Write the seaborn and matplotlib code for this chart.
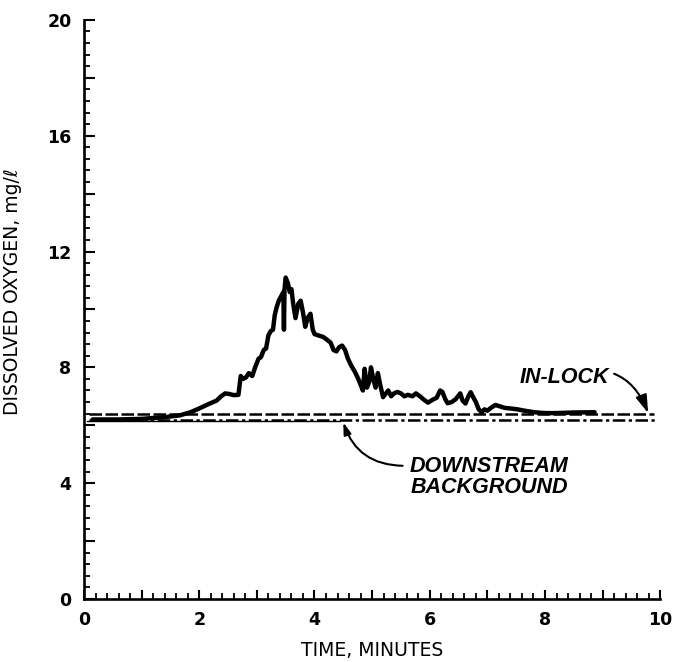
import numpy as np
import pandas as pd
import matplotlib
matplotlib.use("Agg")
import matplotlib.pyplot as plt
import seaborn as sns
from matplotlib.ticker import MultipleLocator, FuncFormatter

# ---- data ----
inlock_time = [0.15, 0.6, 1.0, 1.4, 1.66, 1.85, 2.0, 2.15, 2.3, 2.38, 2.45, 2.52, 2.6, 2.68,
               2.72, 2.76, 2.81, 2.86, 2.92, 2.97, 3.03, 3.07, 3.12, 3.16, 3.2, 3.24, 3.28,
               3.31, 3.34, 3.38, 3.42, 3.46, 3.47, 3.48, 3.5, 3.54, 3.57, 3.6, 3.63, 3.67,
               3.72, 3.76, 3.8, 3.84, 3.88, 3.93, 3.97, 4.0, 4.07, 4.15, 4.22, 4.28, 4.33,
               4.38, 4.43, 4.48, 4.53, 4.58, 4.64, 4.7, 4.76, 4.8, 4.84, 4.87, 4.91, 4.95,
               4.98, 5.02, 5.06, 5.1, 5.14, 5.19, 5.24, 5.28, 5.33, 5.38, 5.44, 5.5, 5.56,
               5.62, 5.7, 5.76, 5.83, 5.9, 5.97, 6.05, 6.12, 6.18, 6.22, 6.27, 6.31, 6.38,
               6.45, 6.53, 6.57, 6.62, 6.67, 6.71, 6.76, 6.8, 6.85, 6.9, 6.95, 7.0, 7.06,
               7.14, 7.22, 7.3, 7.4, 7.52, 7.65, 7.81, 8.0, 8.2, 8.5, 8.86]
inlock_do = [6.2, 6.2, 6.22, 6.28, 6.34, 6.45, 6.58, 6.72, 6.85, 7.0, 7.1, 7.08, 7.04, 7.05,
             7.7, 7.6, 7.65, 7.8, 7.7, 8.0, 8.3, 8.35, 8.6, 8.65, 9.1, 9.25, 9.3,
             9.8, 10.05, 10.3, 10.45, 10.6, 9.3, 10.7, 11.1, 10.9, 10.6, 10.7, 10.2, 9.7,
             10.2, 10.3, 9.9, 9.4, 9.7, 9.85, 9.3, 9.15, 9.1, 9.05, 8.95, 8.85, 8.6,
             8.55, 8.7, 8.75, 8.6, 8.3, 8.05, 7.85, 7.6, 7.4, 7.2, 7.95, 7.3, 7.5,
             8.0, 7.6, 7.3, 7.8, 7.4, 6.97, 7.1, 7.2, 7.0, 7.1, 7.15, 7.1, 7.0,
             7.05, 7.0, 7.1, 7.0, 6.88, 6.78, 6.88, 6.95, 7.2, 7.15, 6.9, 6.76, 6.8,
             6.9, 7.1, 6.85, 6.75, 7.0, 7.14, 6.95, 6.8, 6.55, 6.45, 6.55, 6.5, 6.6,
             6.7, 6.65, 6.6, 6.58, 6.55, 6.5, 6.45, 6.42, 6.42, 6.44, 6.45]

inlock_bg_time = [0.08, 9.9]
inlock_bg_do = [6.38, 6.38]

downstream_time = [0.08, 9.95]
downstream_do = [6.18, 6.18]

downstream_early_time = [0.05, 4.45]
downstream_early_do = [6.13, 6.13]

x_tick_labels = ["0", "2", "4", "6", "8", "10"]
y_tick_labels = ["0", "4", "8", "12", "16", "20"]

# ---- styling ----
sns.set_style("ticks")
plt.rcParams["font.family"] = ["DejaVu Sans"]
plt.rcParams["text.color"] = "black"
plt.rcParams["axes.labelcolor"] = "black"
plt.rcParams["xtick.color"] = "black"
plt.rcParams["ytick.color"] = "black"
plt.rcParams["axes.edgecolor"] = "black"

fig = plt.figure(figsize=(6.74, 6.62), dpi=100)
ax = fig.add_axes([0.1246, 0.0952, 0.855, 0.8748])

sns.lineplot(x=inlock_time, y=inlock_do, sort=False, estimator=None,
             color="black", lw=3.2, ax=ax, solid_capstyle="round",
             solid_joinstyle="round")
sns.lineplot(x=inlock_bg_time, y=inlock_bg_do, sort=False, estimator=None,
             color="black", lw=1.8, linestyle=(0, (5, 1.4)), ax=ax)
sns.lineplot(x=downstream_time, y=downstream_do, sort=False, estimator=None,
             color="black", lw=1.8, linestyle=(0, (5, 1.4, 1.3, 1.4)), ax=ax)
sns.lineplot(x=downstream_early_time, y=downstream_early_do, sort=False,
             estimator=None, color="black", lw=1.0, ax=ax)

ax.set_xlim(0, 10)
ax.set_ylim(0, 20)
sns.despine(ax=ax)
for s in ("left", "bottom"):
    ax.spines[s].set_linewidth(1.9)

ax.xaxis.set_major_locator(MultipleLocator(1))
ax.xaxis.set_minor_locator(MultipleLocator(0.2))
ax.yaxis.set_major_locator(MultipleLocator(2))
ax.yaxis.set_minor_locator(MultipleLocator(0.4))

xlab = {int(v): v for v in x_tick_labels}
ylab = {int(v): v for v in y_tick_labels}
ax.xaxis.set_major_formatter(FuncFormatter(
    lambda v, p: xlab.get(int(round(v)), "") if abs(v - round(v)) < 1e-6 else ""))
ax.yaxis.set_major_formatter(FuncFormatter(
    lambda v, p: ylab.get(int(round(v)), "") if abs(v - round(v)) < 1e-6 else ""))

ax.tick_params(which="major", direction="in", width=1.5, pad=9,
               labelsize=12.5, colors="black")
ax.tick_params(which="minor", direction="in", width=1.3)
ax.tick_params(axis="y", which="major", length=8)
ax.tick_params(axis="y", which="minor", length=4.5)
ax.tick_params(axis="x", which="major", length=6.5)
ax.tick_params(axis="x", which="minor", length=4)
for lab in ax.get_xticklabels() + ax.get_yticklabels():
    lab.set_fontweight("bold")

ax.set_xlabel("TIME, MINUTES", fontsize=13.5, color="black")
ax.set_ylabel("DISSOLVED OXYGEN, mg/ℓ", fontsize=13.5, color="black")
ax.xaxis.set_label_coords(0.5, -0.072)
ax.yaxis.set_label_coords(-0.107, 0.53)

ann_font = dict(family=["Liberation Sans", "DejaVu Sans"], weight="bold",
                style="italic", size=15.5, color="black")

ax.annotate("IN-LOCK", xy=(9.79, 6.42), xytext=(9.12, 7.66),
            ha="right", va="center", **ann_font,
            arrowprops=dict(arrowstyle="-|>,head_length=0.7,head_width=0.22",
                            color="black", lw=1.5, shrinkA=1, shrinkB=0,
                            connectionstyle="arc3,rad=-0.5"))

ax.annotate("DOWNSTREAM\nBACKGROUND", xy=(4.5, 6.1), xytext=(7.03, 4.2),
            ha="center", va="center", multialignment="center",
            linespacing=1.0, **ann_font)
ax.annotate("", xy=(4.5, 6.1), xytext=(5.53, 4.6),
            arrowprops=dict(arrowstyle="-|>,head_length=0.7,head_width=0.22",
                            color="black", lw=1.5, shrinkA=0, shrinkB=0,
                            connectionstyle="arc3,rad=-0.35"))

fig.savefig("out.png", dpi=100)
